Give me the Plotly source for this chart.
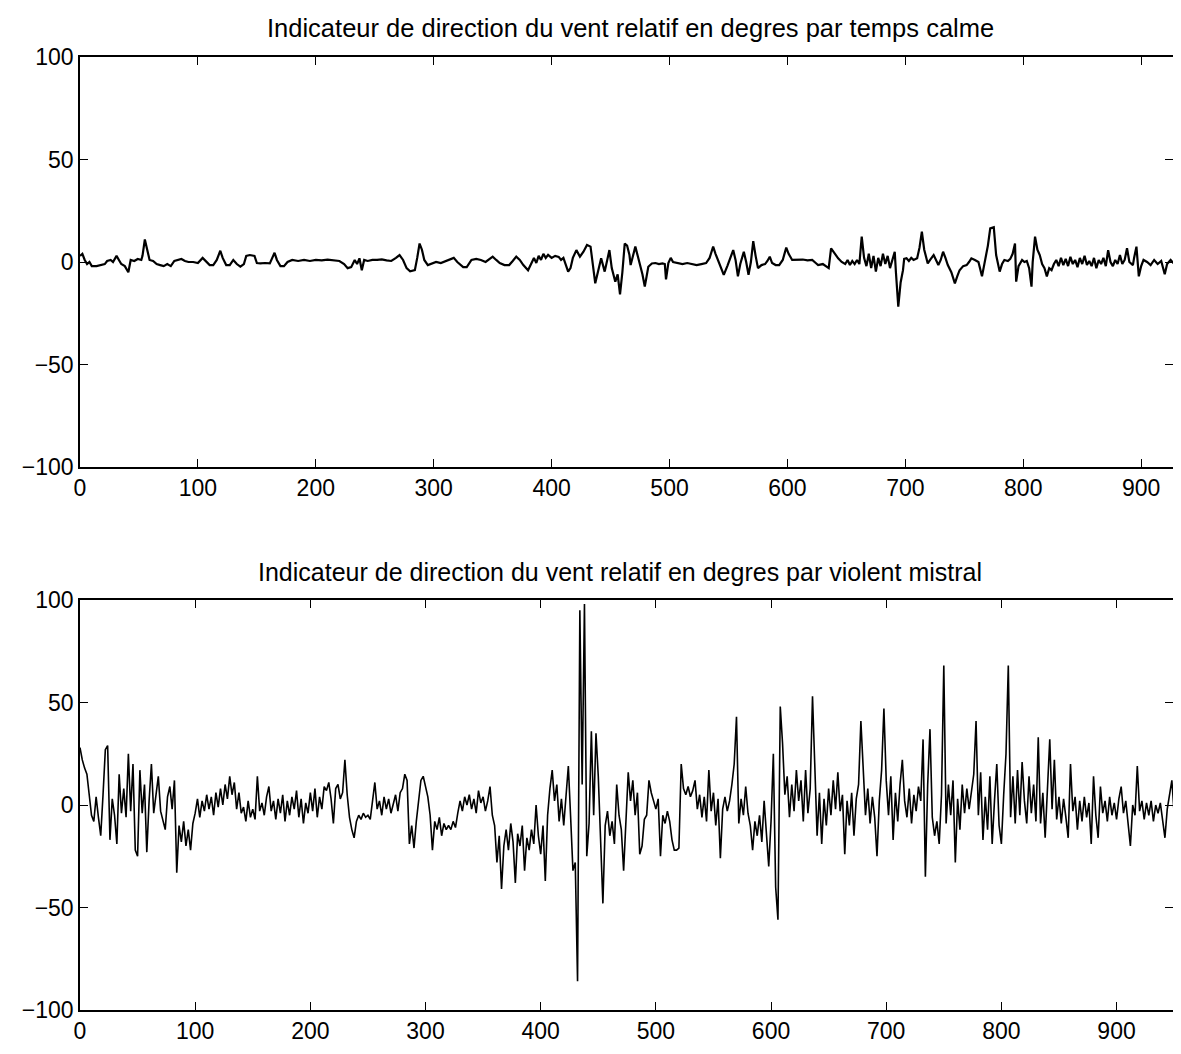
import plotly.graph_objects as go
from plotly.subplots import make_subplots

title_top = "Indicateur de direction du vent relatif en degres par temps calme"
title_bottom = "Indicateur de direction du vent relatif en degres par violent mistral"

x_ticks = [0, 100, 200, 300, 400, 500, 600, 700, 800, 900]
y_ticks = [-100, -50, 0, 50, 100]

calm_x = [0, 2, 4, 6, 8, 10, 14, 18, 21, 23, 26, 28, 31, 33, 35, 38, 41, 43, 46, 49, 52, 53, 55, 57, 59, 62, 65, 68, 71, 74, 77, 80, 83, 86, 89, 92, 96, 100, 104, 107, 110, 113, 116, 119, 121, 124, 127, 130, 133, 136, 139, 141, 144, 148, 150, 153, 157, 161, 163, 165, 167, 170, 173, 176, 180, 185, 190, 195, 200, 205, 210, 215, 220, 224, 227, 230, 233,
          235, 237, 239, 241, 244, 248, 252, 256, 260, 264, 268, 271, 274, 277, 280, 284, 286, 288, 290, 292, 295, 298, 302, 306, 310, 314, 317, 320, 325, 328, 332, 336, 340, 344, 348, 350, 353, 356, 360, 364, 367, 370, 373, 376, 380, 383, 385, 387, 389, 391, 393, 395, 397, 400, 403, 406, 408, 410, 412, 414, 416, 418, 421, 424, 427, 430, 433, 435, 437, 440, 442, 445, 447, 449, 451, 454, 456, 458, 460, 462, 464, 466,
          467, 469, 471, 473, 475, 477, 479, 481, 482, 485, 488, 491, 494, 496, 497, 499, 501, 503, 507, 511, 515, 519, 523, 527, 531, 534, 537, 539, 541, 543, 546, 549, 551, 554, 556, 558, 560, 563, 565, 567, 569, 571, 573, 575, 578, 581, 583, 585, 587, 590, 593, 596, 599, 601, 604, 609, 613, 617, 621, 624, 626, 630, 633, 635, 637, 640, 643, 646, 649, 651, 653, 655, 657, 659, 661, 663, 665, 667, 669, 671, 673, 675, 677, 679, 681, 683, 685, 687, 689, 691, 692, 694, 696, 698,
          699, 701, 703, 705, 707, 710, 712, 714, 716, 717, 719, 721, 724, 726, 728, 730, 732, 734, 736, 739, 742, 744, 746, 749, 752, 754, 756, 759, 762, 765, 767, 768, 770, 772, 775, 777, 780, 782, 784, 787, 789, 791, 793, 794, 796, 799, 801, 803, 805, 807, 808, 810, 812, 814, 816, 818, 820, 822, 824, 826, 828, 830, 832, 834, 836, 838, 840, 842, 844, 846, 848, 850, 852, 854, 856, 858, 860, 862, 864, 866, 868, 870, 872, 874, 876, 878, 880, 882, 884, 886, 888, 890, 893, 894, 896, 898, 900, 902, 905, 908, 911, 914, 917, 920, 922, 925, 928, 931, 934]
calm_y = [3, 4, 1, -1, 0, -2, -2, -1.5, -1, 0.5, 1, 0, 3, 1, -1, -2, -5, 1, 0.5, 1.5, 1, 3, 11, 6, 1, 0.5, -1, -1.5, -2, -1, -2, 0.5, 1, 1.5, 0.5, 0, 0, -0.5, 2, 0, -1.5, -1.5, 1, 5.5, 2, -1.5, -1.5, 1, -1, -2.3, -1, 3, 3.4, 3, -0.5, -0.7, -0.5, -0.7, 2, 4.5, 1, -2, -2, 0, 1, 0.5, 1, 0.5, 1, 0.8, 1.2, 0.8, 0.5, -1, -3, -2.5, 1,
          -1, 1.8, -4, 1, 0.5, 1, 1, 1.3, 0.8, 0.5, 2, 3.4, 1, -3, -4.5, -4, 2, 9, 6, 1, -1.5, -1, 0, -0.5, 0.5, 1.5, 2, 0, -2.5, -2.5, 1, 1.5, 1, 0, 1.5, 2.6, 1, -0.5, -1.5, -1.5, 0.5, 2.6, 1, -1.5, -4, 0, 2, -0.5, 3, 1, 4, 2, 3.5, 2, 3, 2.5, 1, 2, -1, -4.7, -3, 2, 5.8, 2.6, 5, 8.3, 7.5, -2, -10.4, -3, 1.8, -4.7, 1, 5.8, -3, -9.6, -6, -15.8, -5, 9, 8, 3.4,
          -1.5, 3, 7.5, 3, -1.5, -6, -12, -5, -2.3, -0.7, -0.5, -1, -0.7, -1, -8.5, -0.5, 2, 0, -0.5, -1, -0.5, -1, -1.5, -1, -0.5, 2, 7.5, 4, 1, -2, -6.3, -2, 1, 5.8, 1, -7, -1, 5, 0, -6.3, 0, 10.2, 3, -3, -1.5, -1, 0.5, 2.6, -0.5, -1.5, -1.5, 1, 7, 4, 1, 1, 1.2, 0.8, 1, -0.5, -1.5, -1, -2, -3, 6.7, 4, 1.8, 0, -1, 1, -1.5, 0.5, -1, 1, -1, 12.4, 2, -2, 4, -3, 3, -4.7, 2, -2, 4, -1, 3, -3, 1, 5, -5, -21.8, -10, -4,
          1.5, 1.8, 0.5, 2, 1, 1.8, 7, 14.8, 6, 3.4, -0.7, 1, 3.4, 1, -1.5, 1, 5, 2, -1.5, -5, -10.4, -7, -4, -2, -1.5, 0, 1.8, 1, 0, -7, -1, 2.6, 8, 16.4, 17, 3.4, -4.7, -1, 1, 0.5, 1.5, 4, 9, -9.6, -2, 1, 0, 0.5, -3, -12, 0, 12.4, 6, 3.4, -1, -3, -7, -3, -4, -1, 1, -2, 2, -1.5, 1.5, -2, 2.5, -1, 1, -2.5, 2, -1, 3, -1.5, 0.5, -2, 2, -3, 1, -1, 2, -2, 5.8, 0, -2, 1, -1, 3.4, -1, 1, 6.7, 0, -1.5, 2, 7.5, -7, -2, 1, 0, -1.5, 1, -1, 0.5, -6, -1, 1, -1, 1.5, 0]

mistral_x_step = 2
mistral_y = [
    28, 22, 18, 15, 5, -5, -8, 4, -6, -15,
    5, 27, 29, -17, 3, -5, -19, 15, -4, 8,
    -6, 25, -3, 20, -22, -25, 17, -4, 10, -23,
    2, 20, -4, 5, 14, -3, -8, -12, 4, 9,
    -2, 12, -33, -10, -18, -8, -20, -12, -22, -9,
    -4, 3, -6, 2, -3, 5, -2, 4, -5, 6,
    -1, 8, 0, 10, 3, 14, 5, 11, -2, 6,
    -4, -1, -8, 2, -6, -2, -7, 14, -3, 1,
    -5, 4, 9, -3, 2, -7, 3, -4, 5, -8,
    2, -5, 4, -2, 7, -6, 3, -9, 1, -4,
    6, -3, 8, -6, 4, -2, 9, 7, 11, 3,
    -9, 8, 10, 3, 6, 22, 5, -6, -12, -16,
    -8, -5, -7, -4, -6, -5, -7, 3, 11, -2,
    2, -5, 4, -2, 3, -4, 1, 5, -3, 6,
    8, 15, 12, -19, -10, -21, -8, 3, 12, 14,
    9, 4, -5, -22, -8, -12, -6, -15, -9, -12,
    -10, -12, -8, -11, -4, 2, -3, 4, 0, 5,
    -2, 3, -4, 7, 1, 4, -3, 2, 9, -5,
    -10, -28, -15, -41, -20, -12, -22, -9, -18, -38,
    -14, -20, -10, -32, -16, -22, -12, -19, 0, -15,
    -24, -10, -37, -5, 8, 17, 2, 10, -8, 3,
    -10, 5, 19, -6, -32, -28, -86, 95, 10, 98,
    -25, -9, 36, -5, 35, 14, -20, -48, -10, -3,
    -15, -8, -19, 10, -5, -12, -32, -4, 16, 2,
    12, -5, 6, -24, -20, -7, -5, 12, 6, 2,
    -2, 3, -25, -5, -9, -3, -8, -17, -22, -22,
    -21, 20, 8, 5, 9, 4, 7, 12, -2, 5,
    -6, 4, -8, 17, -3, 6, -10, 3, -26, -2,
    4, -3, 2, 10, 20, 43, -9, 3, -5, 9,
    -4, -10, -22, -8, -15, -5, -18, 2, -12, -30,
    -8, 25, -40, -56, 48, 30, 5, 14, -6, 10,
    -3, 17, 2, 12, -8, 17, -4, 8, 53, 20,
    -15, 6, -19, 3, -10, 8, -5, 12, -2, 16,
    -3, 5, -24, 2, -10, 6, -15, 3, 10, 41,
    20, -5, 8, -9, 4, -6, -25, 2, 17, 47,
    12, -5, 14, -17, 6, -8, 10, 22, 2, -6,
    8, -9, 5, -3, 9, 2, 32, -35, 10, 37,
    -6, -15, -8, -19, 5, 68, -9, 10, -5, 12,
    -28, 3, -12, 10, -4, 8, -2, 6, 15, 41,
    -5, 16, -17, 4, -12, 14, -19, 2, 20, -10,
    -19, 5, 25, 68, -6, 14, -9, 17, -5, 21,
    2, -9, 14, -4, 10, -8, 33, -9, 6, -16,
    8, 32, -2, 22, -7, 4, -9, 3, -6, -16,
    20, -3, 4, -12, 2, -8, 4, -6, 1, -19,
    14, -5, -16, 9, -4, 2, -8, 4, -5, 1,
    -7, 3, 9, -4, 2, -8, -20, 0, -5, 19,
    -3, 2, -7, 1, -5, 2, -8, 0, -4, 1,
    -9, -16, -2, 5, 12, -4, 11, -7,
]
mistral_x = [i * mistral_x_step for i in range(len(mistral_y))]

fig = make_subplots(rows=2, cols=1)
fig.add_trace(go.Scatter(x=calm_x, y=calm_y, mode="lines",
                         line=dict(color="black", width=2.2), showlegend=False), row=1, col=1)
fig.add_trace(go.Scatter(x=mistral_x, y=mistral_y, mode="lines",
                         line=dict(color="black", width=1.6), showlegend=False), row=2, col=1)
# empty traces so the right-hand tick-only axes are drawn
fig.add_trace(go.Scatter(x=[], y=[], xaxis="x", yaxis="y3", showlegend=False, hoverinfo="skip"))
fig.add_trace(go.Scatter(x=[], y=[], xaxis="x2", yaxis="y4", showlegend=False, hoverinfo="skip"))

W, H = 1165.0, 1038.0
L = 72.0
PW = W - L
FONT = "Liberation Sans, Arial, sans-serif"
tick_style = dict(ticks="inside", ticklen=8, tickwidth=1.2, tickcolor="black",
                  tickfont=dict(family=FONT, size=23, color="black"))
x_common = dict(showgrid=False, zeroline=False, showline=True, linecolor="black", linewidth=1.5,
                mirror="ticks", automargin=False, **tick_style)
y_common = dict(showgrid=False, zeroline=False, showline=True, linecolor="black", linewidth=1.5,
                mirror=False, automargin=False, **tick_style)
y_right = dict(showgrid=False, zeroline=False, showline=False, showticklabels=False,
               side="right", automargin=False, range=[-100, 100], tickvals=y_ticks,
               ticks="inside", ticklen=8, tickwidth=1.2, tickcolor="black")

top_dom = [1 - 459 / H, 1 - 49 / H]
bot_dom = [1 - 1002 / H, 1 - 592 / H]

fig.update_layout(
    template="none",
    width=W, height=H,
    margin=dict(l=L, r=0, t=0, b=0, pad=0),
    paper_bgcolor="white", plot_bgcolor="white",
    showlegend=False,
    xaxis=dict(domain=[0, 1], range=[0, 927], tickvals=x_ticks, anchor="y", **x_common),
    yaxis=dict(domain=top_dom, range=[-100, 100], tickvals=y_ticks, anchor="x", **y_common),
    xaxis2=dict(domain=[0, 1], range=[0, 949], tickvals=x_ticks, anchor="y2", **x_common),
    yaxis2=dict(domain=bot_dom, range=[-100, 100], tickvals=y_ticks, anchor="x2", **y_common),
    yaxis3=dict(overlaying="y", anchor="x", **y_right),
    yaxis4=dict(overlaying="y2", anchor="x2", **y_right),
    annotations=[
        dict(text=title_top, xref="paper", yref="paper", x=(622 - L) / PW, y=1 - 20 / H,
             showarrow=False, xanchor="center", yanchor="middle",
             font=dict(family=FONT, size=25.5, color="black")),
        dict(text=title_bottom, xref="paper", yref="paper", x=(612 - L) / PW, y=1 - 564 / H,
             showarrow=False, xanchor="center", yanchor="middle",
             font=dict(family=FONT, size=25, color="black")),
    ],
)

fig.write_html("out.html")
